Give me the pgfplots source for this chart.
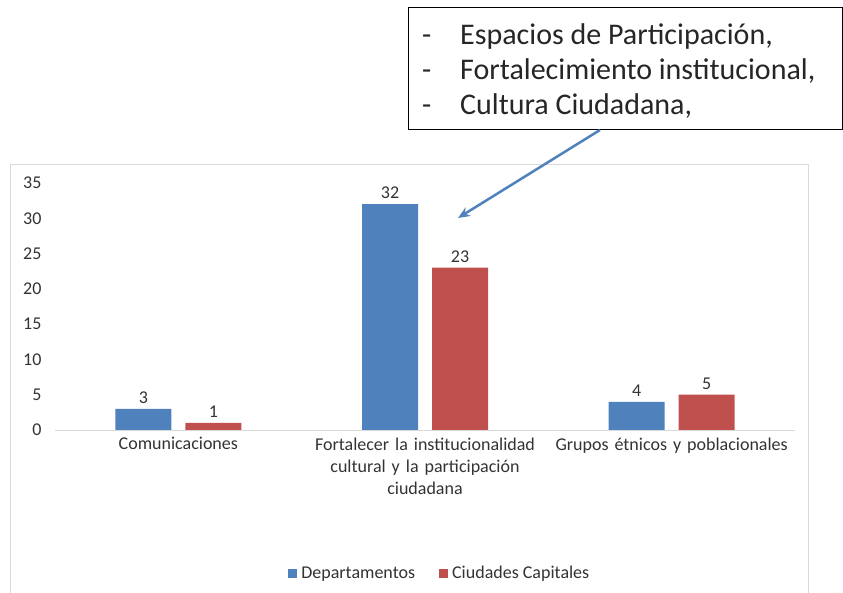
\documentclass[border=0pt]{standalone}
\usepackage{fontspec}
\setmainfont{Carlito}
\usepackage{pgfplots}
\pgfplotsset{compat=1.18}
\usetikzlibrary{arrows.meta}
\definecolor{barblue}{HTML}{4F81BD}
\definecolor{barred}{HTML}{C0504D}
\definecolor{framegray}{HTML}{D9D9D9}
\definecolor{axisgray}{HTML}{D9D9D9}
\begin{document}
\begin{tikzpicture}[x=1pt,y=1pt]
\path[use as bounding box] (0,0) rectangle (843,593);
\draw[framegray, line width=1pt] (10,-5) rectangle (808,428);
\begin{axis}[
  at={(55pt,163pt)}, anchor=south west,
  scale only axis, width=740pt, height=247pt,
  xmin=-0.5, xmax=2.5, ymin=0, ymax=35,
  ybar=14pt, bar width=56pt,
  axis lines*=left,
  y axis line style={draw=none},
  x axis line style={draw=axisgray, line width=0.8pt},
  major tick length=0pt,
  ytick={0,5,...,35},
  xtick={0,1,2},
  xticklabels={Comunicaciones, {Fortalecer la institucionalidad\\cultural y la participación\\ciudadana}, Grupos étnicos y poblacionales},
  /pgf/number format/assume math mode=true,
  tick label style={font=\fontsize{18}{22}\selectfont, color=black!80},
  yticklabel style={xshift=-10pt},
  xticklabel style={text width=260pt, align=center, anchor=north, yshift=-4pt},
  legend style={at={(0.52,-0.58)}, anchor=center, draw=none, legend columns=2,
    font=\fontsize{18}{22}\selectfont, text=black!80,
    /tikz/every even column/.append style={column sep=22pt},
    /tikz/every odd column/.append style={column sep=2pt}},
  legend image code/.code={\fill[#1, draw=none] (0pt,-4.5pt) rectangle (9pt,4.5pt);},
  nodes near coords,
  every node near coord/.append style={font=\fontsize{18}{22}\selectfont, color=black!80, yshift=2pt},
]
\addplot[fill=barblue, draw=none] coordinates {(0,3) (1,32) (2,4)};
\addlegendentry{Departamentos}
\addplot[fill=barred, draw=none] coordinates {(0,1) (1,23) (2,5)};
\addlegendentry{Ciudades Capitales}
\end{axis}
\draw[black, line width=1pt, fill=white] (408,585) rectangle (842,463);
\begin{scope}[every node/.style={font=\fontsize{30}{36}\selectfont, anchor=base west, inner sep=0pt, text=black!85}]
\node at (422,548) {-};
\node at (460,548) {Espacios de Participación,};
\node at (422,513) {-};
\node at (460,513) {Fortalecimiento institucional,};
\node at (422,478) {-};
\node at (460,478) {Cultura Ciudadana,};
\end{scope}
\draw[barblue, line width=2.5pt, -{Stealth[length=12pt,width=10pt]}] (600,463) -- (458,375);
\end{tikzpicture}
\end{document}
